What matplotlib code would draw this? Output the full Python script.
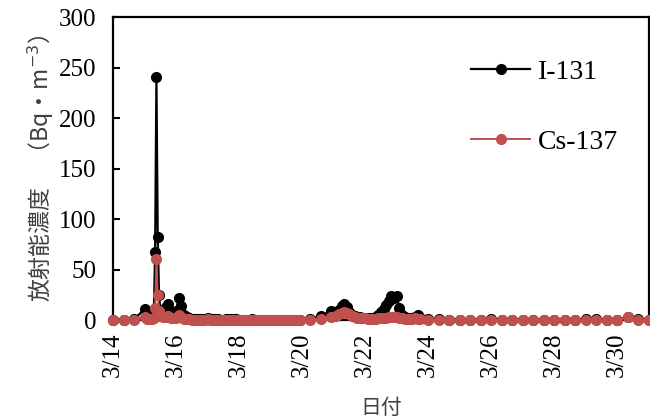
import matplotlib.pyplot as plt
import numpy as np

# sampling times, hours after 3/14 00:00
hours = [0, 8, 16,
         24, 26, 28, 30, 31, 32, 33, 34, 35, 36, 38, 40, 42, 44, 46, 48, 50, 52, 54, 56, 58,
         60, 62, 64, 66, 68, 70, 72, 74, 76, 78, 80, 82, 84, 86, 88, 90, 92, 94, 96, 98,
         100, 102, 104, 106, 108, 110, 112, 114, 116, 118, 120, 122, 124, 126, 128, 130,
         132, 134, 136, 138, 140, 142,
         150, 158, 166,
         170, 172, 174, 176, 178, 180, 182, 184, 186, 188, 190, 192, 194, 196, 198, 200,
         202, 204, 206, 208, 210, 212, 214, 216, 218, 220, 222, 224, 226, 228, 230, 232, 234,
         240, 248, 256, 264, 272, 280, 288, 296, 304, 312, 320, 328, 336, 344, 352, 360,
         368, 376, 384, 392, 400, 408]

i131 = [0.5, 0.4, 0.8,
        11, 5, 3, 4, 6, 67, 241, 82, 25, 10, 7, 13, 16, 8, 7, 9, 22, 14, 5, 3, 2,
        1.5, 1.2, 1.0, 1.0, 0.8, 1.2, 2.0, 1.5, 1.0, 0.8, 0.8, 0.6, 0.6, 0.8, 1.0, 1.2,
        1.0, 0.8, 0.6, 0.6, 0.5, 0.5, 0.6, 0.8, 0.6, 0.5, 0.5, 0.4, 0.4, 0.5, 0.6, 0.5,
        0.4, 0.4, 0.5, 0.5, 0.6, 0.5, 0.4, 0.4, 0.5, 0.6,
        0.8, 4, 9,
        8, 10, 14, 16, 13, 8, 5, 4, 3, 3, 2.5, 2.5, 2, 2, 2.5, 3,
        5, 8, 11, 15, 19, 24, 22, 24, 12, 5, 3, 2, 2, 2.5, 3, 5, 2,
        1, 0.8, 0.6, 0.5, 0.5, 0.6, 0.8, 0.6, 0.5, 0.5, 0.4, 0.5, 0.6, 0.5, 0.5, 0.8,
        1.0, 0.6, 0.5, 3, 1, 0.6]

cs137 = [0.2, 0.2, 0.4,
         3, 1.5, 1, 1, 2, 12, 61, 25, 9, 4, 3, 3, 4, 2, 2, 2, 5, 3, 1.5, 1, 0.8,
         0.6, 0.5, 0.4, 0.4, 0.3, 0.5, 0.8, 0.6, 0.4, 0.3, 0.3, 0.2, 0.2, 0.3, 0.4, 0.5,
         0.4, 0.3, 0.2, 0.2, 0.2, 0.2, 0.2, 0.3, 0.2, 0.2, 0.2, 0.1, 0.1, 0.2, 0.2, 0.2,
         0.1, 0.1, 0.2, 0.2, 0.2, 0.2, 0.1, 0.1, 0.2, 0.2,
         0.4, 1.5, 3.5,
         4, 6, 7, 8, 7, 6, 4, 3, 2.5, 2, 2, 2, 1.5, 1.5, 1.5, 1.5,
         2, 2, 2.5, 2.5, 3, 3, 3, 3, 2.5, 2, 1.5, 1.5, 1.5, 1.5, 2, 1.5, 1,
         0.4, 0.3, 0.3, 0.2, 0.2, 0.3, 0.3, 0.3, 0.2, 0.2, 0.2, 0.2, 0.3, 0.2, 0.2, 0.3,
         0.4, 0.3, 0.2, 3, 0.5, 0.3]

tick_labels = ["3/14", "3/16", "3/18", "3/20", "3/22", "3/24", "3/26", "3/28", "3/30"]

serif = "Liberation Serif"
jp = ["Noto Sans CJK JP", "DejaVu Sans"]

days = np.array(hours) / 24.0

fig = plt.figure(figsize=(6.5, 4.19), dpi=100)
ax = fig.add_axes([0.174, 0.236, 0.824, 0.723])

ax.plot(days, i131, color="black", lw=1.6, marker="o", ms=7, label="I-131", clip_on=False, zorder=3)
ax.plot(days, cs137, color="#C0504D", lw=1.4, marker="o", ms=7, label="Cs-137", clip_on=False, zorder=4)

ax.set_xlim(0, 17)
ax.set_ylim(0, 300)
ax.set_yticks(range(0, 301, 50))
ax.set_xticks(range(0, 17, 2))
ax.set_xticklabels(tick_labels, rotation=90)

for lab in ax.get_xticklabels() + ax.get_yticklabels():
    lab.set_fontfamily(serif)
    lab.set_fontsize(18)
ax.tick_params(axis="y", direction="in", length=5, width=1.5, pad=12)
ax.tick_params(axis="x", direction="in", length=0, pad=9)
for s in ax.spines.values():
    s.set_linewidth(1.6)

ax.set_ylabel("放射能濃度　（Bq・m$^{-3}$）", family=jp, fontsize=16.5, color="#404040", labelpad=2)
ax.set_xlabel("日付", family=jp, fontsize=15, color="#404040", labelpad=14)

leg = ax.legend(loc="center left", bbox_to_anchor=(0.704, 0.745), bbox_transform=fig.transFigure,
                frameon=False, prop={"family": serif, "size": 20}, handlelength=2.1,
                handletextpad=0.3, labelspacing=1.6, borderpad=0)
for h in leg.legend_handles:
    h.set_markersize(7)

fig.savefig("out.png", dpi=100)
